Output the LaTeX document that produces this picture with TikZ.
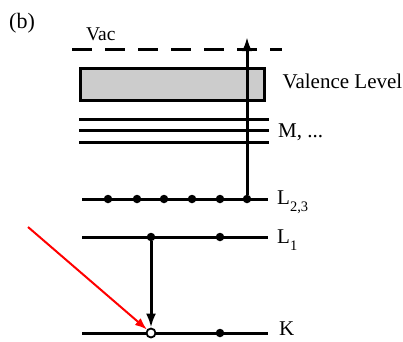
\documentclass[tikz,border=0pt]{standalone}
\usepackage{fontspec}
\setmainfont{Liberation Serif}
\usetikzlibrary{arrows.meta,positioning,calc}
\newcommand\lvlsub[1]{\raisebox{-0.36em}{\fontsize{14.5}{16}\selectfont#1}}
\begin{document}
\begin{tikzpicture}[x=1pt,y=-1pt,
  level/.style={line width=3pt},
  lbl/.style={anchor=mid west,inner sep=0pt,font=\fontsize{21}{25}\selectfont},
  dot/.style={circle,fill,inner sep=0pt,minimum size=8.5pt},
  hole/.style={circle,draw,fill=white,line width=1.8pt,inner sep=0pt,minimum size=9pt},
  >={Latex[length=14pt,width=10pt]}]
\useasboundingbox (0,0) rectangle (403,341);
\node[anchor=base west,inner sep=0pt,font=\fontsize{22}{26}\selectfont] (tag) at (9,28) {(b)};
\coordinate (vac-w) at (72,49);
\coordinate (vac-e) at (282,49);
\draw[level,dash pattern=on 20pt off 13pt] (vac-w) -- (vac-e);
\node[anchor=base west,inner sep=0pt,font=\fontsize{19.5}{23}\selectfont] (vac) at (86,40) {Vac};
\node[draw,line width=3pt,fill=black!20,minimum width=184pt,minimum height=32pt,inner sep=0pt] (val) at (172,84) {};
\node[lbl] (val-lbl) at ($(val.east)+(17,2)$) {Valence Level};
\foreach \y/\n in {119/1,130/2,142/3}{
  \coordinate (m\n-w) at (79,\y);
  \coordinate (m\n-e) at (269,\y);
  \draw[level] (m\n-w) -- (m\n-e);
}
\node[lbl,yshift=-5pt] (m-lbl) at ($(m2-e)+(9,0)$) {M, ...};
\coordinate (l23-w) at (82,199);
\coordinate (l23-e) at (268,199);
\draw[level] (l23-w) -- (l23-e);
\foreach \x [count=\i] in {108,137,164,192,220,247}
  \node[dot] (l23-\i) at (\x,199) {};
\node[lbl,anchor=base west] (l23-lbl) at ($(l23-e)+(9,5)$) {L\lvlsub{2,3}};
\coordinate (l1-w) at (82,237);
\coordinate (l1-e) at (268,237);
\draw[level] (l1-w) -- (l1-e);
\node[dot] (l1-1) at (151,237) {};
\node[dot] (l1-2) at (220,237) {};
\node[lbl,anchor=base west] (l1-lbl) at ($(l1-e)+(9,6)$) {L\lvlsub{1}};
\coordinate (k-w) at (82,333);
\coordinate (k-e) at (268,333);
\draw[level] (k-w) -- (k-e);
\node[hole] (k-hole) at (151,333) {};
\node[dot] (k-2) at (220,333) {};
\node[lbl] (k-lbl) at ($(k-e)+(11,0)$) {K};
\coordinate (vac-top) at (247,37);
\draw[->,level] (l23-6) -- (vac-top);
\draw[->,level] (l1-1) -- (k-hole);
\coordinate (xray) at (28,227);
\draw[->,red,line width=2pt,>={Latex[length=12pt,width=9pt]}] (xray) -- (k-hole);
\end{tikzpicture}
\end{document}
